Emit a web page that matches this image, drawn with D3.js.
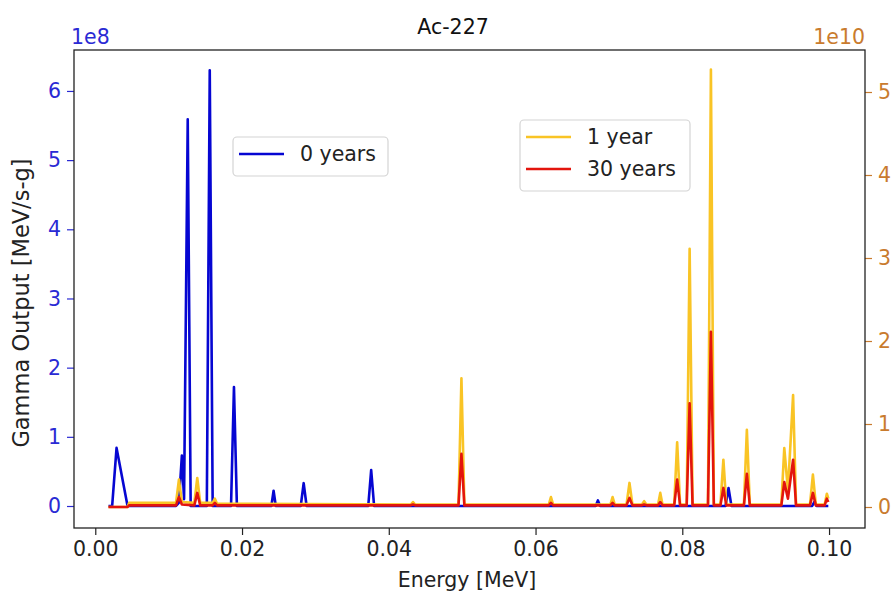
<!DOCTYPE html>
<html>
<head>
<meta charset="utf-8">
<script src="https://cdn.jsdelivr.net/npm/d3@7"></script>
<style>
  html, body { margin: 0; padding: 0; background: #ffffff; }
  svg { display: block; }
  text { font-family: "DejaVu Sans", sans-serif; }
</style>
</head>
<body>
<svg id="chart" width="896" height="596"></svg>
<script>
// ---- Data ----
const title = "Ac-227";
const xTicks = [0.00, 0.02, 0.04, 0.06, 0.08, 0.10];
const leftTicks = [0, 1, 2, 3, 4, 5, 6];          // x 1e8
const rightTicks = [0, 1, 2, 3, 4, 5];            // x 1e10

// 0 years (left axis, units 1e8 MeV/s-g)
const energy0 = [0.0018, 0.0023, 0.0029, 0.0044, 0.0110, 0.0114, 0.0118, 0.0121, 0.0126, 0.0130,
                 0.0152, 0.0156, 0.0160, 0.0185, 0.0189, 0.0193, 0.0240, 0.0243, 0.0246,
                 0.0280, 0.0284, 0.0288, 0.0372, 0.0376, 0.0380, 0.0682, 0.0685, 0.0688,
                 0.0859, 0.0863, 0.0867, 0.0977, 0.0980, 0.0983, 0.0999];
const years0 = [0, 0, 0.84, 0, 0, 0.05, 0.73, 0.10, 5.59, 0,
                0, 6.30, 0, 0, 1.72, 0, 0, 0.22, 0,
                0, 0.33, 0, 0, 0.52, 0, 0, 0.08, 0,
                0, 0.26, 0, 0, 0.06, 0, 0];

// 1 year and 30 years (right axis, units 1e10 MeV/s-g)
const energyYR = [0.0018, 0.0044, 0.0046, 0.0110, 0.0114, 0.0118, 0.0135, 0.0139, 0.0143,
                  0.0160, 0.0163, 0.0166, 0.0430, 0.0433, 0.0436, 0.0495, 0.0499, 0.0503,
                  0.0618, 0.0621, 0.0624, 0.0702, 0.0705, 0.0708, 0.0724, 0.0728, 0.0732,
                  0.0745, 0.0748, 0.0751, 0.0767, 0.0770, 0.0773, 0.0789, 0.0793, 0.0797,
                  0.0806, 0.0810, 0.0814, 0.0835, 0.0839, 0.0843, 0.0852, 0.0856, 0.0860,
                  0.0884, 0.0888, 0.0892, 0.0935, 0.0939, 0.0944, 0.0951, 0.0955,
                  0.0974, 0.0978, 0.0982, 0.0994, 0.0997, 0.0999];
const years1 = [0, 0, 0.05, 0.05, 0.33, 0.06, 0.05, 0.35, 0.05,
                0.05, 0.10, 0.04, 0.03, 0.06, 0.03, 0.03, 1.55, 0.03,
                0.03, 0.12, 0.03, 0.03, 0.12, 0.03, 0.03, 0.29, 0.03,
                0.03, 0.07, 0.03, 0.03, 0.17, 0.03, 0.03, 0.78, 0.03,
                0.03, 3.11, 0.03, 0.03, 5.27, 0.03, 0.03, 0.57, 0.03,
                0.03, 0.93, 0.03, 0.03, 0.71, 0.20, 1.35, 0.03,
                0.03, 0.39, 0.03, 0.03, 0.16, 0.10];
const years30 = [0, 0, 0.02, 0.02, 0.12, 0.03, 0.02, 0.17, 0.02,
                 0.02, 0.05, 0.02, 0.02, 0.03, 0.02, 0.02, 0.64, 0.02,
                 0.02, 0.05, 0.02, 0.02, 0.05, 0.02, 0.02, 0.11, 0.02,
                 0.02, 0.03, 0.02, 0.02, 0.06, 0.02, 0.02, 0.33, 0.02,
                 0.02, 1.25, 0.02, 0.02, 2.11, 0.02, 0.02, 0.23, 0.02,
                 0.02, 0.40, 0.02, 0.02, 0.30, 0.10, 0.57, 0.02,
                 0.02, 0.17, 0.02, 0.02, 0.10, 0.06];

const legendLeft = ["0 years"];
const legendRight = ["1 year", "30 years"];

// ---- Styling ----
const FONT = 20.5;
const cBlue = "#0606d2";
const cYellow = "#f9c425";
const cRed = "#e3150d";
const cLeftTxt = "#2a2ad4";
const cRightTxt = "#c97b2e";

const svg = d3.select("#chart");
const L = 74, R = 865, T = 50, B = 528;

const x = d3.scaleLinear().domain([-0.0029, 0.1049]).range([L, R]);
const yL = d3.scaleLinear().domain([-0.318, 6.592]).range([B, T]);
const yR = d3.scaleLinear().domain([-0.253, 5.506]).range([B, T]);

svg.append("clipPath").attr("id", "clip")
  .append("rect").attr("x", L).attr("y", T).attr("width", R - L).attr("height", B - T);

const plot = svg.append("g").attr("clip-path", "url(#clip)");

const line0 = d3.line().x((d, i) => x(energy0[i])).y(d => yL(d));
const lineR = d3.line().x((d, i) => x(energyYR[i])).y(d => yR(d));

plot.append("path").datum(years0).attr("d", line0)
  .attr("fill", "none").attr("stroke", cBlue).attr("stroke-width", 2.6)
  .attr("stroke-linejoin", "round");
plot.append("path").datum(years1).attr("d", lineR)
  .attr("fill", "none").attr("stroke", cYellow).attr("stroke-width", 2.6)
  .attr("stroke-linejoin", "round");
plot.append("path").datum(years30).attr("d", lineR)
  .attr("fill", "none").attr("stroke", cRed).attr("stroke-width", 2.6)
  .attr("stroke-linejoin", "round");

// Axes
const xAxis = d3.axisBottom(x).tickValues(xTicks).tickFormat(d3.format(".2f"))
  .tickSize(7).tickPadding(6);
const gx = svg.append("g").attr("transform", `translate(0,${B})`).call(xAxis);
gx.select(".domain").remove();
gx.selectAll("line").attr("stroke", "#222").attr("stroke-width", 1.2);
gx.selectAll("text").attr("font-size", FONT).attr("fill", "#222")
  .attr("font-family", "DejaVu Sans");

const yAxisL = d3.axisLeft(yL).tickValues(leftTicks).tickFormat(d3.format("d"))
  .tickSize(7).tickPadding(6);
const gl = svg.append("g").attr("transform", `translate(${L},0)`).call(yAxisL);
gl.select(".domain").remove();
gl.selectAll("line").attr("stroke", cLeftTxt).attr("stroke-width", 1.2);
gl.selectAll("text").attr("font-size", FONT).attr("fill", cLeftTxt)
  .attr("font-family", "DejaVu Sans");

const yAxisR = d3.axisRight(yR).tickValues(rightTicks).tickFormat(d3.format("d"))
  .tickSize(7).tickPadding(6);
const gr = svg.append("g").attr("transform", `translate(${R},0)`).call(yAxisR);
gr.select(".domain").remove();
gr.selectAll("line").attr("stroke", cRightTxt).attr("stroke-width", 1.2);
gr.selectAll("text").attr("font-size", FONT).attr("fill", cRightTxt)
  .attr("font-family", "DejaVu Sans");

// Frame
svg.append("rect").attr("x", L).attr("y", T).attr("width", R - L).attr("height", B - T)
  .attr("fill", "none").attr("stroke", "#222").attr("stroke-width", 1.3);

// Offset texts
svg.append("text").attr("x", L - 3).attr("y", 44).attr("font-size", FONT)
  .attr("fill", cLeftTxt).text("1e8");
svg.append("text").attr("x", R).attr("y", 44).attr("text-anchor", "end")
  .attr("font-size", FONT).attr("fill", cRightTxt).text("1e10");

// Title and labels
svg.append("text").attr("x", 453).attr("y", 34).attr("text-anchor", "middle")
  .attr("font-size", FONT).attr("fill", "#111").text(title);
svg.append("text").attr("x", 467).attr("y", 587).attr("text-anchor", "middle")
  .attr("font-size", FONT).attr("fill", "#222").text("Energy [MeV]");
svg.append("text").attr("transform", `translate(29,${(T + B) / 2 + 14}) rotate(-90)`)
  .attr("text-anchor", "middle").attr("font-size", 22.5).attr("fill", "#222")
  .text("Gamma Output [MeV/s-g]");

// Legends
function legend(x0, y0, w, h, items, colors) {
  const g = svg.append("g");
  g.append("rect").attr("x", x0).attr("y", y0).attr("width", w).attr("height", h)
    .attr("rx", 4).attr("fill", "#ffffff").attr("fill-opacity", 0.85)
    .attr("stroke", "#d4d4d4").attr("stroke-width", 1.2);
  items.forEach((t, i) => {
    const yy = y0 + 17 + i * 32;
    g.append("line").attr("x1", x0 + 6).attr("x2", x0 + 51).attr("y1", yy).attr("y2", yy)
      .attr("stroke", colors[i]).attr("stroke-width", 2.6);
    g.append("text").attr("x", x0 + 67).attr("y", yy + 7).attr("font-size", FONT)
      .attr("fill", "#222").text(t);
  });
}
legend(233, 137, 155, 39, legendLeft, [cBlue]);
legend(520, 120, 170, 71, legendRight, [cYellow, cRed]);
</script>
</body>
</html>
